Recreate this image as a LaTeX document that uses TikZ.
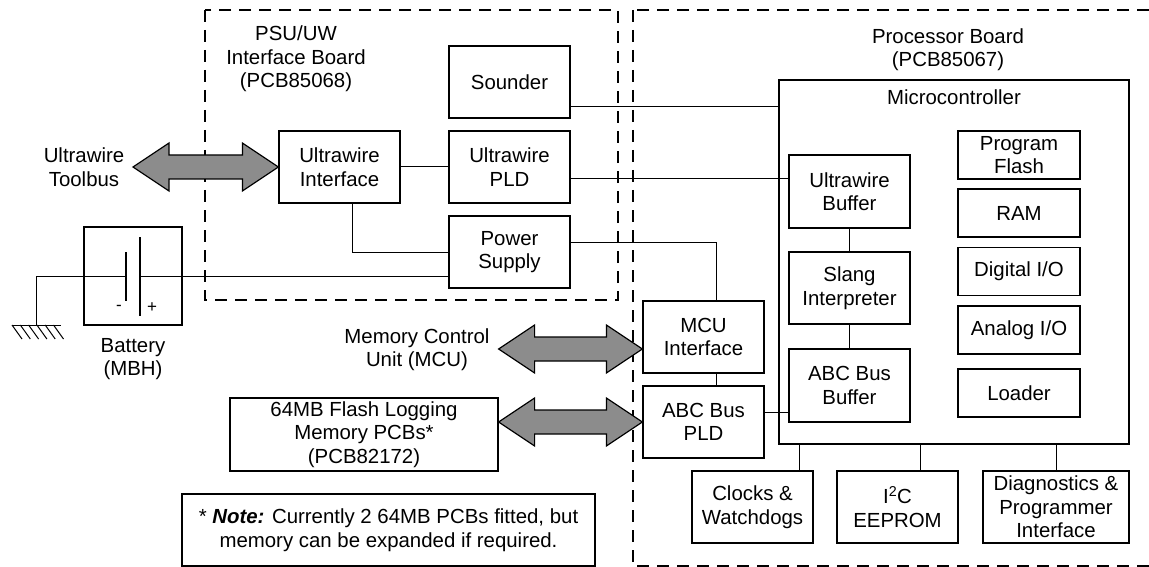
\documentclass[tikz,border=0pt]{standalone}
\usepackage{fontspec}
\setmainfont{Liberation Sans}
\usetikzlibrary{calc}
\definecolor{arrowgray}{HTML}{8C8C8C}
\tikzset{
 box/.style={draw, line width=1.2pt, inner sep=2pt, align=center, minimum width=121pt, minimum height=72pt},
 smallbox/.style={box, minimum width=122pt, minimum height=48pt},
 wire/.style={line width=1pt},
 board/.style={draw, line width=1.8pt, dash pattern=on 12pt off 8pt},
 blockarrow/.style={draw, line width=1.2pt, fill=arrowgray, line join=miter},
 lbl/.style={align=center, inner sep=0pt},
}
\newcommand\dblarrow[2]{\draw[blockarrow] let \p1=(#1), \p2=(#2) in
 (\x1,\y1) -- (\x1+36pt,\y1+24pt) -- (\x1+36pt,\y1+12pt) -- (\x2-36pt,\y1+12pt) -- (\x2-36pt,\y1+24pt)
 -- (\x2,\y1) -- (\x2-36pt,\y1-24pt) -- (\x2-36pt,\y1-12pt) -- (\x1+36pt,\y1-12pt) -- (\x1+36pt,\y1-24pt) -- cycle;}
\begin{document}
\begin{tikzpicture}[x=1pt, y=-1pt, font=\fontsize{20.4pt}{23.5pt}\selectfont]
\useasboundingbox (0,0) rectangle (1149,567);
% boards
\draw[board] (205,10) rectangle (618,300);
\draw[board] (633,10) rectangle (1165,566);
\node[lbl] (psulbl) at (296,59) {PSU/UW\\Interface Board\\(PCB85068)};
\node[lbl] (proclbl) at (948,49.5) {Processor Board\\(PCB85067)};
% PSU board
\node[box] (sounder) at (509.5,82) {Sounder};
\node[box] (uwpld) at (509.5,167) {Ultrawire\\PLD};
\node[box] (psu) at (509.5,252) {Power\\Supply};
\node[box] (uwif) at (339.5,167) {Ultrawire\\Interface};
% processor board
\node[draw, line width=2.2pt, minimum width=350pt, minimum height=364pt, inner sep=0pt] (micro) at (954,262) {};
\node[lbl] (microlbl) at ([yshift=-18pt]micro.north) {Microcontroller};
\node[box, minimum height=73pt] (uwbuf) at (849.5,191.5) {Ultrawire\\Buffer};
\node[box] (slang) at (849.5,288) {Slang\\Interpreter};
\node[box, minimum height=73pt] (abcbuf) at (849.5,385.5) {ABC Bus\\Buffer};
\node[smallbox] (pflash) at (1019,155) {Program\\Flash};
\node[smallbox] (ram) at (1019,213) {RAM};
\node[smallbox] (dio) at (1019,271.5) {Digital I/O};
\node[smallbox] (aio) at (1019,330) {Analog I/O};
\node[smallbox] (loader) at (1019,393) {Loader};
\node[box] (mcuif) at (703.5,337) {MCU\\Interface};
\node[box] (abcpld) at (703.5,422) {ABC Bus\\PLD};
\node[box] (clocks) at (752.5,507) {Clocks \&\\Watchdogs};
\node[box] (i2c) at (897.5,507) {I\textsuperscript{2}C\\EEPROM};
\node[box, minimum width=146pt] (diag) at (1056,507) {Diagnostics \&\\Programmer\\Interface};
% left side
\node[box, minimum width=268pt, minimum height=73pt] (flash) at (364,434.5) {64MB Flash Logging\\Memory PCBs*\\(PCB82172)};
\node[box, line width=2pt, minimum width=413pt, minimum height=72pt] (note) at (388.5,530) {* \textbf{\textit{Note:}} Currently 2 64MB PCBs fitted, but\\memory can be expanded if required.};
\node[lbl] (tblbl) at (84,167) {Ultrawire\\Toolbus};
\node[lbl] (mculbl) at (417,349.5) {Memory Control\\Unit (MCU)};
% battery
\node[draw, line width=1.2pt, minimum width=98pt, minimum height=98pt, inner sep=0pt] (batt) at (133,276) {};
\node[lbl] (battlbl) at (133,359) {Battery\\(MBH)};
\node[lbl, font=\fontsize{17pt}{20pt}\selectfont] (minus) at (119,308) {-};
\node[lbl, font=\fontsize{17pt}{20pt}\selectfont] (plus) at (152,308) {+};
\coordinate (negp) at (126,276);
\coordinate (posp) at (140,276);
\draw[line width=1.5pt] (126,252) -- (126,301);
\draw[line width=1.5pt] (140,237) -- (140,316);
\coordinate (gndtop) at (36,276);
\coordinate (gnd) at (36,325);
\draw[wire] (negp) -- (gndtop) -- (gnd);
\draw[wire] ([xshift=-24pt]gnd) -- ([xshift=25pt]gnd);
\foreach \i in {0,...,5} \draw[wire] ($(gnd)+(-24+8.3*\i,0)$) -- ++(10,14);
\draw[wire] (posp) -- ([yshift=-24pt]psu.west);
% connectors
\draw[wire] (uwif.east) -- (uwpld.west);
\draw[wire] ([yshift=12pt]sounder.south east) -- ([yshift=12pt]sounder.south east -| micro.west);
\draw[wire] ([yshift=-12pt]uwpld.east) -- ([yshift=-12pt]uwpld.east -| uwbuf.west);
\draw[wire] ([xshift=12.5pt]uwif.south) |- (psu.west);
\draw[wire] ([yshift=10pt]psu.east) -| ([xshift=12.5pt]mcuif.north);
\draw[wire] ([xshift=12.5pt]mcuif.south) -- ([xshift=12.5pt]abcpld.north);
\draw[wire] ([yshift=10pt]abcpld.east) -- ([yshift=10pt]abcpld.east -| abcbuf.west);
\draw[wire] (uwbuf.south) -- (slang.north);
\draw[wire] (slang.south) -- (abcbuf.north);
\draw[wire] ([xshift=46.5pt]clocks.north) -- ([xshift=46.5pt]clocks.north |- micro.south);
\draw[wire] ([xshift=22.5pt]i2c.north) -- ([xshift=22.5pt]i2c.north |- micro.south);
\draw[wire] (diag.north) -- (diag.north |- micro.south);
% block arrows
\coordinate (tbL) at (133,167);
\dblarrow{tbL}{uwif.west}
\coordinate (mcuR) at ([yshift=-12pt]mcuif.west);
\coordinate (mcuL) at (flash.east |- mcuR);
\dblarrow{mcuL}{mcuR}
\coordinate (abcL) at (flash.east |- abcpld.west);
\dblarrow{abcL}{abcpld.west}
\end{tikzpicture}
\end{document}
